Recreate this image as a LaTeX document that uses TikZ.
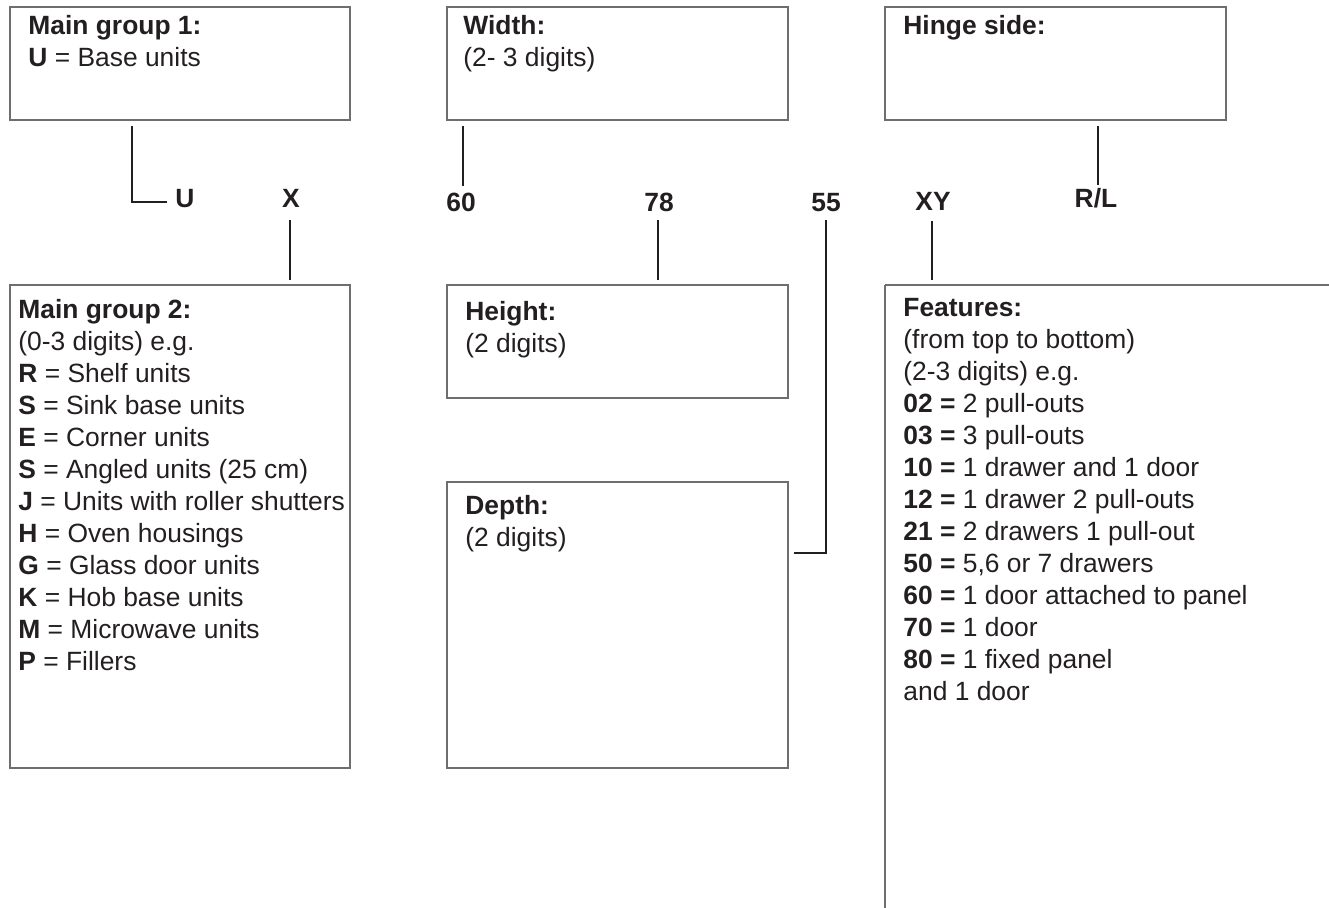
\documentclass[tikz,border=0pt]{standalone}
\usepackage{fontspec}
\setmainfont{Liberation Sans}
\usetikzlibrary{calc, positioning}
\providecommand{\pxu}{0.5pt}
\definecolor{inkdark}{HTML}{231F20}
\definecolor{framegray}{HTML}{6E6E6E}

\begin{document}
\begin{tikzpicture}[
        x=\pxu, y=-\pxu,
        frame box/.style={draw=framegray, line width=0.75pt, inner sep=0pt, outer sep=0pt, anchor=north west},
        frame line/.style={draw=framegray, line width=0.75pt},
        box text/.style={font=\fontsize{13.2}{16}\selectfont, text=inkdark, align=left, anchor=north west, inner sep=0pt},
        code label/.style={font=\fontsize{13.2}{16}\selectfont\bfseries, text=inkdark, anchor=base, inner sep=0pt},
        link/.style={draw=inkdark, line width=1.25pt},
    ]

    % Page size
    \useasboundingbox (0,0) rectangle (1329,907);

    % Boxes, top row
    \node[frame box, minimum width=340*\pxu, minimum height=113*\pxu] (mg1) at (10,7) {};
    \node[frame box, minimum width=341*\pxu, minimum height=113*\pxu] (width) at (447,7) {};
    \node[frame box, minimum width=341*\pxu, minimum height=113*\pxu] (hinge) at (885,7) {};

    % Boxes, bottom row
    \node[frame box, minimum width=340*\pxu, minimum height=483*\pxu] (mg2) at (10,285) {};
    \node[frame box, minimum width=341*\pxu, minimum height=113*\pxu] (height) at (447,285) {};
    \node[frame box, minimum width=341*\pxu, minimum height=286*\pxu] (depth) at (447,482) {};
    \coordinate (feat) at (885,285);
    \draw[frame line] (feat) -- ++(450,0);
    \draw[frame line] (feat) -- ++(0,630);

    % Box texts
    \node[box text] (mg1txt) at ($(mg1.north west)+(18,8)$) {\textbf{Main group 1:}\\\textbf{U} = Base units};
    \node[box text] (widthtxt) at ($(width.north west)+(16,8)$) {\textbf{Width:}\\(2- 3 digits)};
    \node[box text] (hingetxt) at ($(hinge.north west)+(18,8)$) {\textbf{Hinge side:}};
    \node[box text] (mg2txt) at ($(mg2.north west)+(8,14)$) {\textbf{Main group 2:}\\
        (0-3 digits) e.g.\\
        \textbf{R} = Shelf units\\
        \textbf{S} = Sink base units\\
        \textbf{E} = Corner units\\
        \textbf{S} = Angled units (25 cm)\\
        \textbf{J} = Units with roller shutters\\
        \textbf{H} = Oven housings\\
        \textbf{G} = Glass door units\\
        \textbf{K} = Hob base units\\
        \textbf{M} = Microwave units\\
        \textbf{P} = Fillers};
    \node[box text] (heighttxt) at ($(height.north west)+(18,16)$) {\textbf{Height:}\\(2 digits)};
    \node[box text] (depthtxt) at ($(depth.north west)+(18,13)$) {\textbf{Depth:}\\(2 digits)};
    \node[box text] (feattxt) at ($(feat)+(18,13)$) {\textbf{Features:}\\
        (from top to bottom)\\
        (2-3 digits) e.g.\\
        \textbf{02 =} 2 pull-outs\\
        \textbf{03 =} 3 pull-outs\\
        \textbf{10 =} 1 drawer and 1 door\\
        \textbf{12 =} 1 drawer 2 pull-outs\\
        \textbf{21 =} 2 drawers 1 pull-out\\
        \textbf{50 =} 5,6 or 7 drawers\\
        \textbf{60 =} 1 door attached to panel\\
        \textbf{70 =} 1 door\\
        \textbf{80 =} 1 fixed panel\\
        and 1 door};

    % Code letters
    \node[code label] (labU) at (185,207) {U};
    \node[code label] (labX) at (291,207) {X};
    \node[code label] (lab60) at (461,211) {60};
    \node[code label] (lab78) at (659,211) {78};
    \node[code label] (lab55) at (826,211) {55};
    \node[code label] (labXY) at (933,210) {XY};
    \node[code label] (labRL) at (1096,207) {R/L};

    % Connectors
    \draw[link] ($(mg1.south west)+(122,6)$) |- ($(labU.base west)+(-8,-5)$);
    \draw[link] ($(labX.base)+(-1,13)$) -- ($(labX.base |- mg2.north)+(-1,-5)$);
    \draw[link] ($(width.south west)+(16,6)$) -- ($(lab60.north)+(2,-6)$);
    \draw[link] ($(lab78.base)+(-1,9)$) -- ($(lab78.base |- height.north)+(-1,-5)$);
    \draw[link] ($(lab55.base)+(0,9)$) |- ($(depth.north east)+(6,71)$);
    \draw[link] ($(labXY.base)+(-1,11)$) -- ($(labXY.base |- feat)+(-1,-5)$);
    \draw[link] ($(hinge.south west)+(213,6)$) -- ($(labRL.north)+(2,-2)$);

\end{tikzpicture}
\end{document}
